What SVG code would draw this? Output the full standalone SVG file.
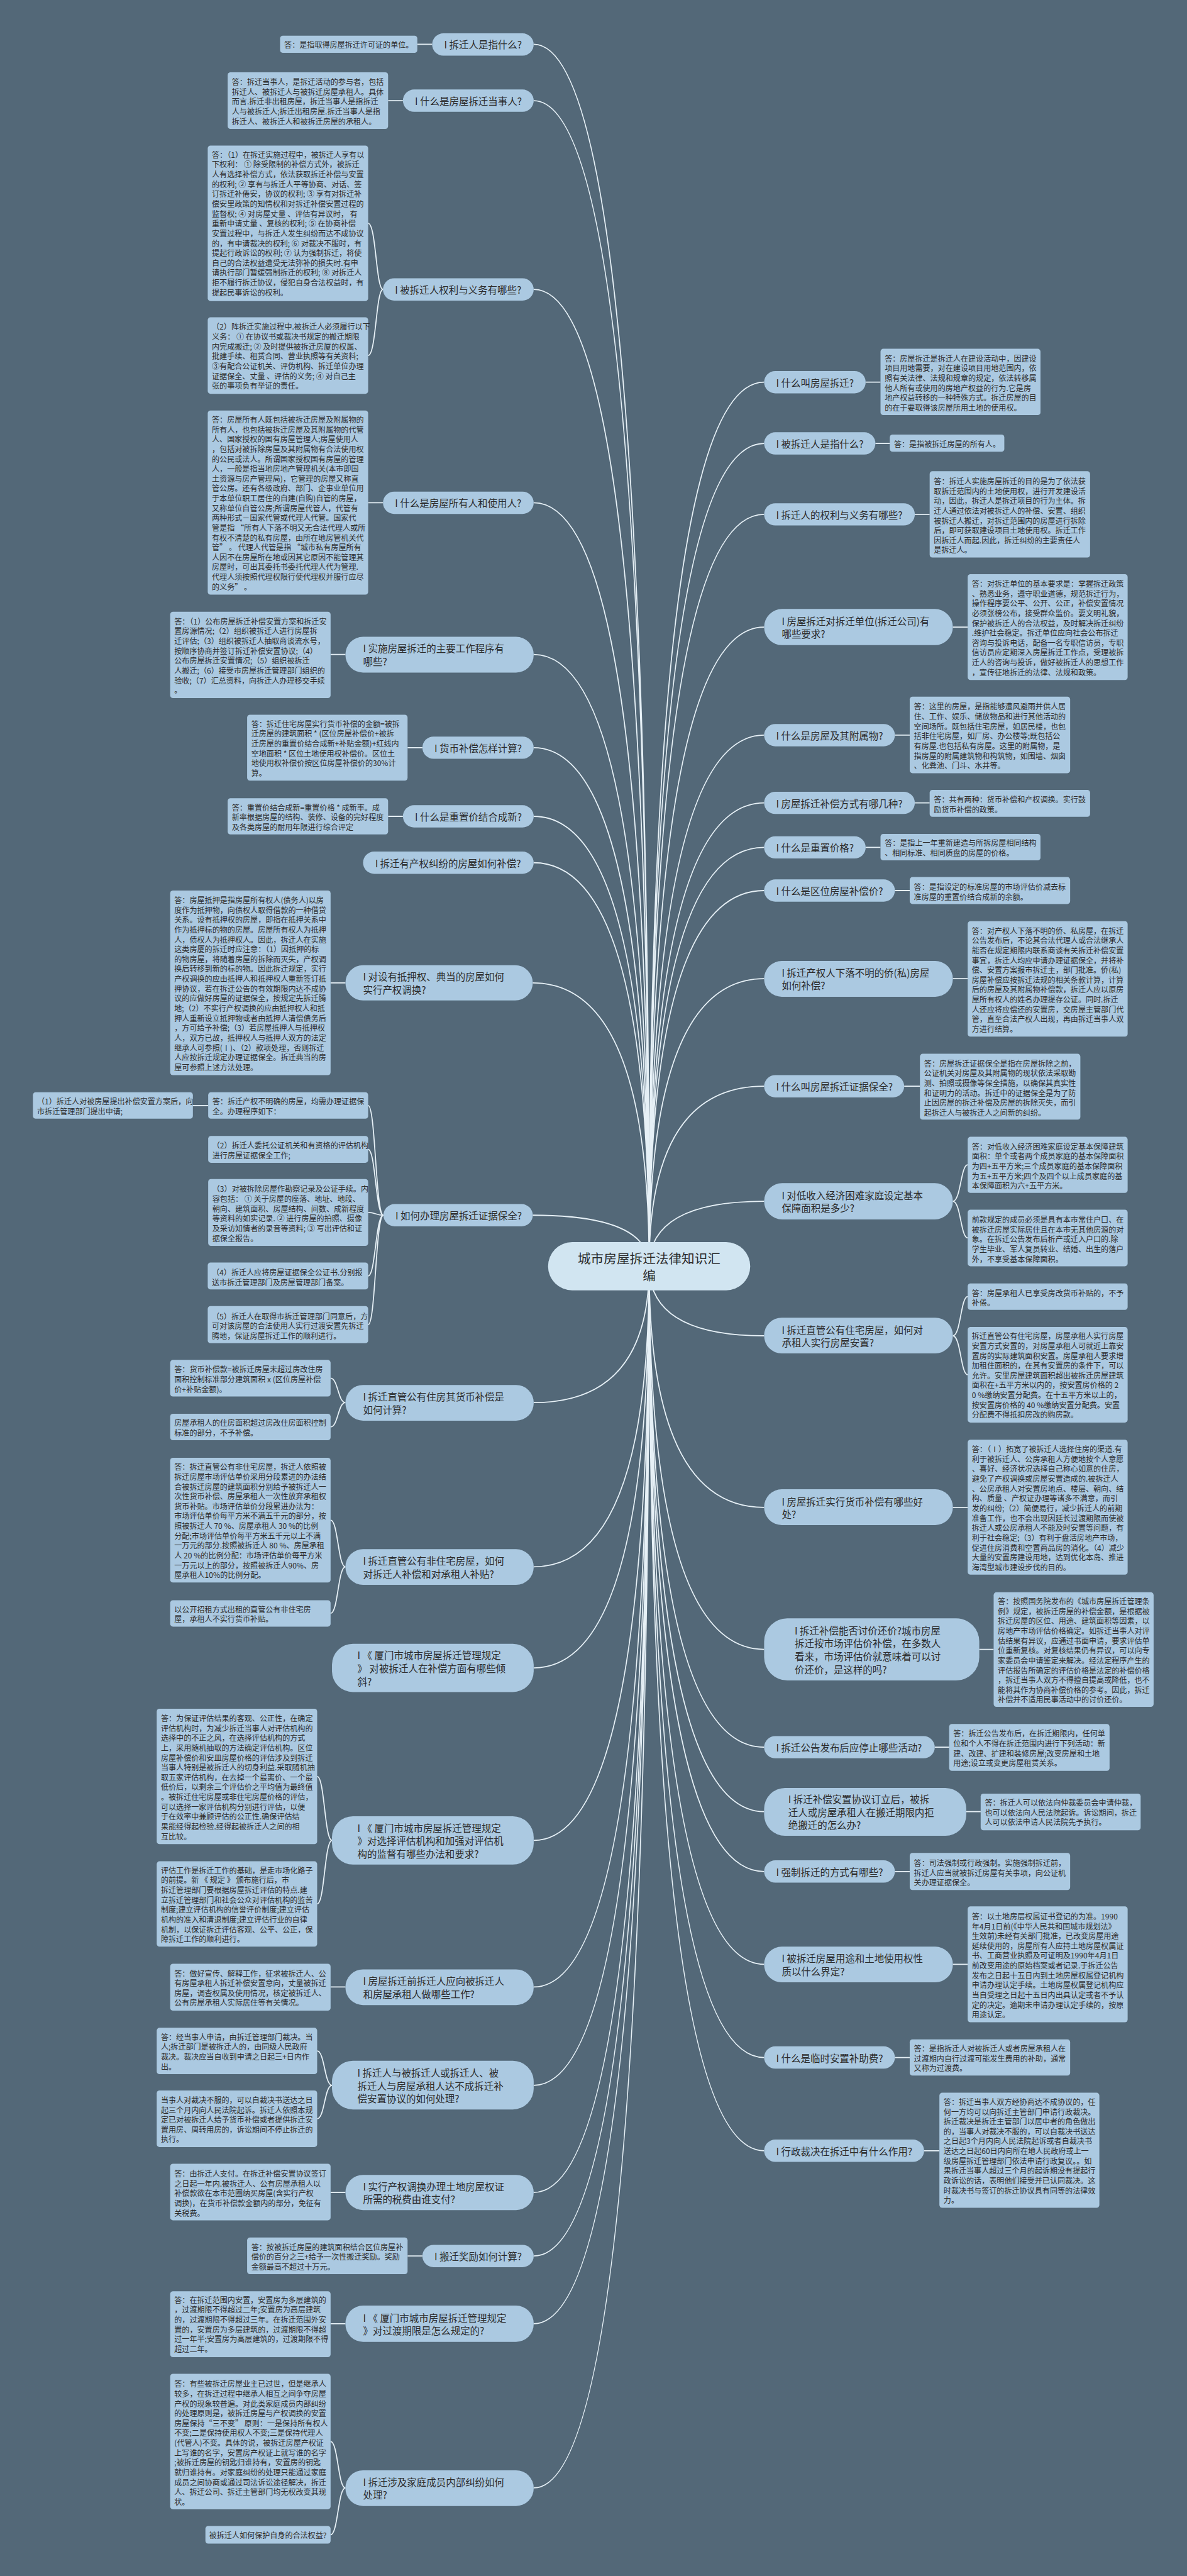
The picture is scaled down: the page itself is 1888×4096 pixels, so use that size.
<svg xmlns="http://www.w3.org/2000/svg" width="1888" height="4096" viewBox="0 0 1888 4096">
<style>
.bg{fill:#536878}
.b{fill:#abc9e1}
.p{fill:#abc9e1}
.ct{fill:#d1e5f1}
text{font-family:"Noto Sans CJK SC","Noto Sans",sans-serif;fill:#2b2b2b;dominant-baseline:central}
.t{font-size:16.4px}
.q{font-size:21px}
.c{font-size:28px;text-anchor:middle}
.ln{fill:none;stroke:#e6f0f6;stroke-width:2.4}
</style>
<rect class="bg" x="0" y="0" width="1888" height="4096"/>
<g transform="scale(0.7375)">
<g id="connectors">
<path class="ln" d="M1400 2730Q1400 95.5 1151 95.5M1400 2730Q1400 217 1151 217M1400 2730Q1400 624 1151 624M1400 2730Q1400 1084 1151 1084M1400 2730Q1400 1411 1151 1411M1400 2730Q1400 1612 1151 1612M1400 2730Q1400 1760 1151 1760M1400 2730Q1400 1860 1151 1860M1400 2730Q1400 2119 1149 2119M1400 2730Q1400 2620 1149 2620M1400 2730Q1400 3024 1151 3024M1400 2730Q1400 3378 1151 3378M1400 2730Q1400 3596 1151 3596M1400 2730Q1400 3968 1151 3968M1400 2730Q1400 4284 1151 4284M1400 2730Q1400 4496 1151 4496M1400 2730Q1400 4727 1151 4727M1400 2730Q1400 4864 1151 4864M1400 2730Q1400 5010 1151 5010M1400 2730Q1400 5364 1151 5364"/>
<path class="ln" d="M1400 2730Q1400 824 1648 824M1400 2730Q1400 956 1648 956M1400 2730Q1400 1109 1648 1109M1400 2730Q1400 1352 1648 1352M1400 2730Q1400 1585 1648 1585M1400 2730Q1400 1731 1648 1731M1400 2730Q1400 1827 1648 1827M1400 2730Q1400 1920 1648 1920M1400 2730Q1400 2110 1648 2110M1400 2730Q1400 2342 1648 2342M1400 2730Q1400 2590 1648 2590M1400 2730Q1400 2880 1648 2880M1400 2730Q1400 3250 1648 3250M1400 2730Q1400 3556 1648 3556M1400 2730Q1400 3767 1648 3767M1400 2730Q1400 3906 1648 3906M1400 2730Q1400 4035 1648 4035M1400 2730Q1400 4235 1648 4235M1400 2730Q1400 4436 1648 4436M1400 2730Q1400 4637 1648 4637"/>
<path class="ln" d="M900 95.5H932M837 217H869M794 1084H826M713 1411H745M879 1612H911M837 1760H869M713 2119H745M416 2383.5H449M713 4284H745M713 4727H745M879 4864H911M713 5010H745"/>
<path class="ln" d="M826 624C811 624 811 481.5 794 481.5M826 624C811 624 811 766.5 794 766.5"/>
<path class="ln" d="M827 2620C810 2620 810 2383.5 794 2383.5M827 2620C810 2620 810 2478 794 2478M827 2620C810 2620 810 2614 794 2614M827 2620C810 2620 810 2751 794 2751M827 2620C810 2620 810 2856 794 2856"/>
<path class="ln" d="M745 3024C729 3024 729 2971.5 713 2971.5M745 3024C729 3024 729 3076.5 713 3076.5"/>
<path class="ln" d="M745 3378C729 3378 729 3277.5 713 3277.5M745 3378C729 3378 729 3478.5 713 3478.5"/>
<path class="ln" d="M716 3968C700 3968 700 3830 684 3830M716 3968C700 3968 700 4105 684 4105"/>
<path class="ln" d="M716 4496C700 4496 700 4422 684 4422M716 4496C700 4496 700 4568 684 4568"/>
<path class="ln" d="M745 5364C729 5364 729 5264 713 5264M745 5364C729 5364 729 5465 713 5465"/>
<path class="ln" d="M1867 824H1899M1888 956H1919M1973 1109H2005M2055 1352H2087M1930 1585H1962M1973 1731H2005M1867 1827H1899M1930 1920H1962M2055 2110H2087M1950 2342H1984M2055 3250H2087M2112 3556H2143M2016 3767H2047M2084 3906H2115M1930 4035H1962M2055 4235H2087M1930 4436H1962M1993 4637H2026"/>
<path class="ln" d="M2055 2590C2072 2590 2072 2511.5 2087 2511.5M2055 2590C2072 2590 2072 2669 2087 2669"/>
<path class="ln" d="M2055 2880C2072 2880 2072 2795.5 2087 2795.5M2055 2880C2072 2880 2072 2964 2087 2964"/>
</g>

<g id="center">
<rect class="ct" x="1182" y="2678" width="436" height="104" rx="52"/>
<text class="c" x="1400" y="2712">城市房屋拆迁法律知识汇</text>
<text class="c" x="1400" y="2748">编</text>
</g>

<!-- LEFT SIDE -->
<g id="n1">
<rect class="p" x="932" y="72" width="219" height="48" rx="24"/>
<text class="q" x="958" y="95.5">I 拆迁人是指什么?</text>
<rect class="b" x="604" y="77" width="296" height="37" rx="6"/>
<text class="t" x="613" y="95.5">答：是指取得房屋拆迁许可证的单位。</text>
</g>

<g id="n2">
<rect class="p" x="869" y="193" width="282" height="48" rx="24"/>
<text class="q" x="895" y="217">I 什么是房屋拆迁当事人?</text>
<rect class="b" x="491" y="156" width="346" height="122" rx="6"/>
<text class="t" y="175"><tspan x="500">答：拆迁当事人，是拆迁活动的参与者，包括</tspan><tspan x="500" dy="21.2">拆迁人、被拆迁人与被拆迁房屋承租人。具体</tspan><tspan x="500" dy="21.2">而言.拆迁非出租房屋，拆迁当事人是指拆迁</tspan><tspan x="500" dy="21.2">人与被拆迁人;拆迁出租房屋.拆迁当事人是指</tspan><tspan x="500" dy="21.2">拆迁人、被拆迁人和被拆迁房屋的承租人。</tspan></text>
</g>

<g id="n3">
<rect class="p" x="826" y="600" width="325" height="48" rx="24"/>
<text class="q" x="852" y="624">I 被拆迁人权利与义务有哪些?</text>
<rect class="b" x="448" y="314" width="346" height="335" rx="6"/>
<text class="t" y="332"><tspan x="457">答：（1）在拆迁实施过程中，被拆迁人享有以</tspan><tspan x="457" dy="21.2">下权利：  ① 除受限制的补偿方式外，被拆迁</tspan><tspan x="457" dy="21.2">人有选择补偿方式，依法获取拆迁补偿与安置</tspan><tspan x="457" dy="21.2">的权利; ② 享有与拆迁人平等协商、对话、签</tspan><tspan x="457" dy="21.2">订拆迁补倦安，协议的权利; ③ 享有对拆迁补</tspan><tspan x="457" dy="21.2">偿安里政策的知情权和对拆迁补偿安置过程的</tspan><tspan x="457" dy="21.2">监督权; ④ 对房屋丈量 、评估有异议时， 有</tspan><tspan x="457" dy="21.2">重新申请丈量 、复核的权利; ⑤ 在协商补偿</tspan><tspan x="457" dy="21.2">安置过程中，与拆迁人发生纠纷而达不成协议</tspan><tspan x="457" dy="21.2">的，有申请裁决的权利; ⑥ 对裁决不服时，有</tspan><tspan x="457" dy="21.2">提起行政诉讼的权利; ⑦ 认为强制拆迁，将使</tspan><tspan x="457" dy="21.2">自己的合法权益遭受无法弥补的损失时.有申</tspan><tspan x="457" dy="21.2">请执行部门暂缓强制拆迁的权利; ⑧ 对拆迁人</tspan><tspan x="457" dy="21.2">拒不履行拆迁协议，侵犯自身合法权益时，有</tspan><tspan x="457" dy="21.2">提起民事诉讼的权利。</tspan></text>
<rect class="b" x="448" y="684" width="346" height="165" rx="6"/>
<text class="t" y="703"><tspan x="457">（2）阵拆迁实施过程中.被拆迁人必须履行以下</tspan><tspan x="457" dy="21.2">义务：  ① 在协议书或裁决书规定的搬迁期限</tspan><tspan x="457" dy="21.2">内完成搬迁; ② 及时提供被拆迁房厦的权属、</tspan><tspan x="457" dy="21.2">批建手续、租赁合同、营业执照等有关资料;</tspan><tspan x="457" dy="21.2">③有配合公证机关、评伪机构、拆迁单位办理</tspan><tspan x="457" dy="21.2">证据保全、丈量 、评估的义务; ④ 对自己主</tspan><tspan x="457" dy="21.2">张的事项负有举证的责任。</tspan></text>
</g>

<g id="n4">
<rect class="p" x="826" y="1060" width="325" height="48" rx="24"/>
<text class="q" x="852" y="1084">I 什么是房屋所有人和使用人?</text>
<rect class="b" x="448" y="885" width="346" height="397" rx="6"/>
<text class="t" y="903"><tspan x="457">答：房屋所有人既包括被拆迁房屋及附属物的</tspan><tspan x="457" dy="21.2">所有人，也包括被拆迁房屋及其附属物的代管</tspan><tspan x="457" dy="21.2">人、国家授权的国有房屋管理人;房屋使用人</tspan><tspan x="457" dy="21.2">，包括对被拆除房屋及其附属物有合法使用权</tspan><tspan x="457" dy="21.2">的公民或法人。所谓国家授权国有房屋的管理</tspan><tspan x="457" dy="21.2">人，一般是指当地房地产管理机关(本市即国</tspan><tspan x="457" dy="21.2">土资源与房产管理局)，它管理的房屋又称直</tspan><tspan x="457" dy="21.2">管公房。还有各级政府、部门、企事业单位用</tspan><tspan x="457" dy="21.2">于本单位职工居住的自建(自购)自管的房屋，</tspan><tspan x="457" dy="21.2">又称单位自管公房;所谓房屋代管人，代管有</tspan><tspan x="457" dy="21.2">两种形式－国家代管或代理人代管。国家代</tspan><tspan x="457" dy="21.2">管是指 “所有人下落不明又无合法代理人或所</tspan><tspan x="457" dy="21.2">有权不清楚的私有房屋，由所在地房管机关代</tspan><tspan x="457" dy="21.2">管” 。 代理人代管是指 “城市私有房屋所有</tspan><tspan x="457" dy="21.2">人因不在房屋所在地或因其它原因不能管理其</tspan><tspan x="457" dy="21.2">房屋时，可出其委托书委托代理人代为管理.</tspan><tspan x="457" dy="21.2">代理人须按照代理权限行使代理权并服行应尽</tspan><tspan x="457" dy="21.2">的义务” 。</tspan></text>
</g>

<g id="n5">
<rect class="p" x="745" y="1373" width="406" height="77" rx="38"/>
<text class="q" y="1397"><tspan x="783">I 实施房屋拆迁的主要工作程序有</tspan><tspan x="783" dy="28">哪些?</tspan></text>
<rect class="b" x="367" y="1319" width="346" height="186" rx="6"/>
<text class="t" y="1338"><tspan x="376">答：（1）公布房屋拆迁补偿安置方案和拆迁安</tspan><tspan x="376" dy="21.2">置房源情况;（2）组织被拆迁人进行房屋拆</tspan><tspan x="376" dy="21.2">迁评估;（3）组织被拆迁人抽取商谈流水号，</tspan><tspan x="376" dy="21.2">按顺序协商并签订拆迁补偿安置协议;（4）</tspan><tspan x="376" dy="21.2">公布房屋拆迁安置情况;（5）组织被拆迁</tspan><tspan x="376" dy="21.2">人搬迁;（6）接受市房屋拆迁管理部门组织的</tspan><tspan x="376" dy="21.2">验收;（7）汇总资料，向拆迁人办理移交手续</tspan><tspan x="376" dy="21.2">。</tspan></text>
</g>

<g id="n6">
<rect class="p" x="911" y="1588" width="240" height="48" rx="24"/>
<text class="q" x="937" y="1612">I 货币补偿怎样计算?</text>
<rect class="b" x="533" y="1541" width="346" height="142" rx="6"/>
<text class="t" y="1559"><tspan x="542">答：拆迁住宅房屋实行货币补偿的金额=被拆</tspan><tspan x="542" dy="21.2">迁房屋的建筑面积 * (区位房屋补偿价+被拆</tspan><tspan x="542" dy="21.2">迁房屋的重置价结合成新+补贴金额)+红线内</tspan><tspan x="542" dy="21.2">空地面积 * 区位土地使用权补偿价。区位土</tspan><tspan x="542" dy="21.2">地使用权补偿价按区位房屋补偿价的30%计</tspan><tspan x="542" dy="21.2">算。</tspan></text>
</g>

<g id="n7">
<rect class="p" x="869" y="1736" width="282" height="48" rx="24"/>
<text class="q" x="895" y="1760">I 什么是重置价结合成新?</text>
<rect class="b" x="491" y="1721" width="346" height="78" rx="6"/>
<text class="t" y="1739"><tspan x="500">答：重置价结合成新=重置价格 * 成新率。成</tspan><tspan x="500" dy="21.2">新率根据房屋的结构、装修、设备的完好程度</tspan><tspan x="500" dy="21.2">及各类房屋的耐用年限进行综合评定</tspan></text>
</g>

<g id="n8">
<rect class="p" x="783" y="1836" width="368" height="48" rx="24"/>
<text class="q" x="809" y="1860">I 拆迁有产权纠纷的房屋如何补偿?</text>
</g>

<g id="n9">
<rect class="p" x="745" y="2081" width="404" height="76" rx="38"/>
<text class="q" y="2105"><tspan x="783">I 对设有抵押权、典当的房屋如何</tspan><tspan x="783" dy="28">实行产权调换?</tspan></text>
<rect class="b" x="367" y="1920" width="346" height="398" rx="6"/>
<text class="t" y="1939"><tspan x="376">答：房屋抵押是指房屋所有权人(债务人)以房</tspan><tspan x="376" dy="21.2">度作为抵押物，向债权人取得借款的一种借贷</tspan><tspan x="376" dy="21.2">关系。设有抵押权的房屋，即指在抵押关系中</tspan><tspan x="376" dy="21.2">作为抵押标的物的房屋。房屋所有权人为抵押</tspan><tspan x="376" dy="21.2">人，债权人为抵押权人。因此，拆迁人在实施</tspan><tspan x="376" dy="21.2">这类房厦的拆迁时应注意：（1）因抵押的标</tspan><tspan x="376" dy="21.2">的物房屋，将随着房屋的拆除而灭失，产权调</tspan><tspan x="376" dy="21.2">换后转移到新的标的物。因此拆迁规定，实行</tspan><tspan x="376" dy="21.2">产权调换的应由抵押人和抵押权人重新签订抵</tspan><tspan x="376" dy="21.2">押协议，若在拆迁公告的有效期限内达不成协</tspan><tspan x="376" dy="21.2">议的应做好房屋的证据保全，按规定先拆迁腾</tspan><tspan x="376" dy="21.2">地;（2）不实行产权调换的应由抵押权人和抵</tspan><tspan x="376" dy="21.2">押人重新设立抵押物或者由抵押人清偿债务后</tspan><tspan x="376" dy="21.2">，方可给予补偿;（3）若房屋抵押人与抵押权</tspan><tspan x="376" dy="21.2">人，双方已故，抵押权人与抵押人双方的法定</tspan><tspan x="376" dy="21.2">继承人可参照(Ⅰ)、（2）款项处理，否则拆迁</tspan><tspan x="376" dy="21.2">人应按拆迁规定办理证据保全。拆迁典当的房</tspan><tspan x="376" dy="21.2">屋可参照上述方法处理。</tspan></text>
</g>

<g id="n10">
<rect class="p" x="827" y="2596" width="322" height="48" rx="24"/>
<text class="q" x="853" y="2620">I 如何办理房屋拆迁证据保全?</text>
<rect class="b" x="449" y="2355" width="345" height="57" rx="6"/>
<text class="t" y="2373"><tspan x="458">答：拆迁产权不明确的房屋，均需办理证据保</tspan><tspan x="458" dy="21.2">全。办理程序如下：</tspan></text>
<rect class="b" x="71" y="2355" width="345" height="57" rx="6"/>
<text class="t" y="2373"><tspan x="80">（1）拆迁人对被房屋提出补偿安置方案后，向</tspan><tspan x="80" dy="21.2">市拆迁管理部门提出申请;</tspan></text>
<rect class="b" x="449" y="2449" width="345" height="58" rx="6"/>
<text class="t" y="2468"><tspan x="458">（2）拆迁人委托公证机关和有资格的评估机构</tspan><tspan x="458" dy="21.2">进行房屋证据保全工作;</tspan></text>
<rect class="b" x="449" y="2542" width="345" height="144" rx="6"/>
<text class="t" y="2562"><tspan x="458">（3）对被拆除房屋作勘察记录及公证手续。内</tspan><tspan x="458" dy="21.2">容包括： ① 关于房屋的座落、地址、地段、</tspan><tspan x="458" dy="21.2">朝向、建筑面积、房屋结构、间数、成新程度</tspan><tspan x="458" dy="21.2">等资料的如实记录. ② 进行房屋的拍照、摄像</tspan><tspan x="458" dy="21.2">及采访知情者的录音等资料; ③ 写出评估和证</tspan><tspan x="458" dy="21.2">据保全报告。</tspan></text>
<rect class="b" x="448" y="2722" width="346" height="58" rx="6"/>
<text class="t" y="2742"><tspan x="457">（4）拆迁人应将房屋证据保全公证书.分别报</tspan><tspan x="457" dy="21.2">送市拆迁管理部门及房屋管理部门备案。</tspan></text>
<rect class="b" x="448" y="2816" width="346" height="80" rx="6"/>
<text class="t" y="2836"><tspan x="457">（5）拆迁人在取得市拆迁管理部门同意后，方</tspan><tspan x="457" dy="21.2">可对该房屋的合法使用人实行过渡安置先拆迁</tspan><tspan x="457" dy="21.2">腾地，保证房屋拆迁工作的顺利进行。</tspan></text>
</g>

<g id="n11">
<rect class="p" x="745" y="2986" width="406" height="77" rx="38"/>
<text class="q" y="3010"><tspan x="783">I 拆迁直管公有住房其货币补偿是</tspan><tspan x="783" dy="28">如何计算?</tspan></text>
<rect class="b" x="367" y="2932" width="346" height="79" rx="6"/>
<text class="t" y="2951"><tspan x="376">答：货币补偿款=被拆迁房屋未超过房改住房</tspan><tspan x="376" dy="21.2">面积控制标准部分建筑面积 x (区位房屋补偿</tspan><tspan x="376" dy="21.2">价+补贴金额)。</tspan></text>
<rect class="b" x="367" y="3048" width="346" height="57" rx="6"/>
<text class="t" y="3066"><tspan x="376">房屋承租人的住房面积超过房改住房面积控制</tspan><tspan x="376" dy="21.2">标准的部分，不予补偿。</tspan></text>
</g>

<g id="n12">
<rect class="p" x="745" y="3340" width="406" height="77" rx="38"/>
<text class="q" y="3364"><tspan x="783">I 拆迁直管公有非住宅房屋，如何</tspan><tspan x="783" dy="28">对拆迁人补偿和对承租人补贴?</tspan></text>
<rect class="b" x="367" y="3143" width="346" height="269" rx="6"/>
<text class="t" y="3161"><tspan x="376">答：拆迁直管公有非住宅房屋，拆迁人依照被</tspan><tspan x="376" dy="21.2">拆迁房屋市场评估单价采用分段累进的办法结</tspan><tspan x="376" dy="21.2">合被拆迁房屋的建筑面积分别给予被拆迁人一</tspan><tspan x="376" dy="21.2">次性货币补偿、房屋承租人一次性放弃承租权</tspan><tspan x="376" dy="21.2">货币补贴。市场评估单价分段累进办法为：</tspan><tspan x="376" dy="21.2">市场评估单价每平方米不满五千元的部分，按</tspan><tspan x="376" dy="21.2">照被拆迁人 70 %、房屋承租人 30 %的比例</tspan><tspan x="376" dy="21.2">分配;市场评估单价每平方米五千元以上不满</tspan><tspan x="376" dy="21.2">一万元的部分.按照被拆迁人 80 %、房屋承租</tspan><tspan x="376" dy="21.2">人 20 %的比例分配：市场评估单价每平方米</tspan><tspan x="376" dy="21.2">一万元以上的部分，按照被拆迁人90%、房</tspan><tspan x="376" dy="21.2">屋承租人10%的比例分配。</tspan></text>
<rect class="b" x="367" y="3450" width="346" height="57" rx="6"/>
<text class="t" y="3468"><tspan x="376">以公开招租方式出租的直管公有非住宅房</tspan><tspan x="376" dy="21.2">屋，承租人不实行货币补贴。</tspan></text>
</g>

<g id="n13">
<rect class="p" x="716" y="3544" width="435" height="104" rx="45"/>
<text class="q" y="3568"><tspan x="771">I 《 厦门市城市房屋拆迁管理规定</tspan><tspan x="771" dy="28">》 对被拆迁人在补偿方面有哪些倾</tspan><tspan x="771" dy="28">斜?</tspan></text>
</g>

<g id="n14">
<rect class="p" x="716" y="3916" width="435" height="104" rx="45"/>
<text class="q" y="3940"><tspan x="771">I 《 厦门市城市房屋拆迁管理规定</tspan><tspan x="771" dy="28">》对选择评估机构和加强对评估机</tspan><tspan x="771" dy="28">构的监督有哪些办法和要求?</tspan></text>
<rect class="b" x="338" y="3684" width="346" height="292" rx="6"/>
<text class="t" y="3703"><tspan x="347">答：为保证评估结果的客观、公正性，在确定</tspan><tspan x="347" dy="21.2">评估机构时，为减少拆迁当事人对评估机构的</tspan><tspan x="347" dy="21.2">选择中的不正之风，在选择评估机构的方式</tspan><tspan x="347" dy="21.2">上，采用随机抽取的方法确定评估机构。区位</tspan><tspan x="347" dy="21.2">房屋补偿价和安皿房屋价格的评估涉及到拆迁</tspan><tspan x="347" dy="21.2">当事人特别是被拆迁人的切身利益.采取随机抽</tspan><tspan x="347" dy="21.2">取五家评估机构，在去掉一个最离价、一个最</tspan><tspan x="347" dy="21.2">低价后，以剩余三个评估价之平均值为最终值</tspan><tspan x="347" dy="21.2">。被拆迁住宅房屋或非住宅房屋价格的评估，</tspan><tspan x="347" dy="21.2">可以选择一家评估机构分别进行评估，以便</tspan><tspan x="347" dy="21.2">于在效率中兼顾评估的公正性.确保评估结</tspan><tspan x="347" dy="21.2">果能经得起检验.经得起被拆迁人之间的相</tspan><tspan x="347" dy="21.2">互比较。</tspan></text>
<rect class="b" x="338" y="4013" width="346" height="184" rx="6"/>
<text class="t" y="4031"><tspan x="347">评估工作是拆迁工作的基础，是走市场化路子</tspan><tspan x="347" dy="21.2">的前提。新 《 规定 》 颁布施行后，市</tspan><tspan x="347" dy="21.2">拆迁管理部门要根据房屋拆迁评估的特点.建</tspan><tspan x="347" dy="21.2">立拆迁管理部门和社会公众对评估机构的监苦</tspan><tspan x="347" dy="21.2">制度;建立评估机构的信誉评价制度;建立评估</tspan><tspan x="347" dy="21.2">机构的准入和清退制度;建立评估行业的自律</tspan><tspan x="347" dy="21.2">机制，以保证拆迁评估客观、公平、公正，保</tspan><tspan x="347" dy="21.2">障拆迁工作的顺利进行。</tspan></text>
</g>

<g id="n15">
<rect class="p" x="745" y="4246" width="406" height="77" rx="38"/>
<text class="q" y="4270"><tspan x="783">I 房屋拆迁前拆迁人应向被拆迁人</tspan><tspan x="783" dy="28">和房屋承租人做哪些工作?</tspan></text>
<rect class="b" x="367" y="4234" width="346" height="101" rx="6"/>
<text class="t" y="4253"><tspan x="376">答：做好宣传、解释工作，征求被拆迁人、公</tspan><tspan x="376" dy="21.2">有房屋承租人拆迁补偿安置意向，丈量被拆迁</tspan><tspan x="376" dy="21.2">房屋，调查权属及使用情况，核定被拆迁人、</tspan><tspan x="376" dy="21.2">公有房屋承租人实际居住等有关情况。</tspan></text>
</g>

<g id="n16">
<rect class="p" x="716" y="4443" width="435" height="105" rx="45"/>
<text class="q" y="4468"><tspan x="771">I 拆迁人与被拆迁人或拆迁人、被</tspan><tspan x="771" dy="28">拆迁人与房屋承租人达不成拆迁补</tspan><tspan x="771" dy="28">偿安置协议的如何处理?</tspan></text>
<rect class="b" x="338" y="4372" width="346" height="100" rx="6"/>
<text class="t" y="4390"><tspan x="347">答：经当事人申请，由拆迁管理部门裁决。当</tspan><tspan x="347" dy="21.2">人;拆迁部门是被拆迁人的，由同级人民政府</tspan><tspan x="347" dy="21.2">裁决。裁决应当自收到申请之日起三+日内作</tspan><tspan x="347" dy="21.2">出。</tspan></text>
<rect class="b" x="338" y="4507" width="346" height="122" rx="6"/>
<text class="t" y="4526"><tspan x="347">当事人对裁决不服的，可以自裁决书送达之日</tspan><tspan x="347" dy="21.2">起三个月内向人民法院起诉。拆迁人依照本规</tspan><tspan x="347" dy="21.2">定已对被拆迁人给予货币补偿或者提供拆迁安</tspan><tspan x="347" dy="21.2">置用房、周转用房的，诉讼期间不停止拆迁的</tspan><tspan x="347" dy="21.2">执行。</tspan></text>
</g>

<g id="n17">
<rect class="p" x="745" y="4689" width="406" height="76" rx="38"/>
<text class="q" y="4713"><tspan x="783">I 实行产权调换办理土地房屋权证</tspan><tspan x="783" dy="28">所需的税费由谁支付?</tspan></text>
<rect class="b" x="367" y="4665" width="346" height="122" rx="6"/>
<text class="t" y="4685"><tspan x="376">答：由拆迁人支付。在拆迁补偿安置协议签订</tspan><tspan x="376" dy="21.2">之日起一年内.被拆迁人、公有房屋承租人以</tspan><tspan x="376" dy="21.2">补偿款欲在本市范圈纳买房屋(含实行产权</tspan><tspan x="376" dy="21.2">调换)，在货币补偿款金额内的部分，免征有</tspan><tspan x="376" dy="21.2">关税费。</tspan></text>
</g>

<g id="n18">
<rect class="p" x="911" y="4840" width="240" height="48" rx="24"/>
<text class="q" x="937" y="4864">I 搬迁奖励如何计算?</text>
<rect class="b" x="533" y="4824" width="346" height="79" rx="6"/>
<text class="t" y="4843"><tspan x="542">答：按被拆迁房屋的建筑面积结合区位房屋补</tspan><tspan x="542" dy="21.2">偿价的百分之三+给予一次性搬迁奖励。奖励</tspan><tspan x="542" dy="21.2">金额最高不超过十万元。</tspan></text>
</g>

<g id="n19">
<rect class="p" x="745" y="4971" width="406" height="78" rx="38"/>
<text class="q" y="4996"><tspan x="783">I 《 厦门市城市房屋拆迁管理规定</tspan><tspan x="783" dy="28">》对过渡期限是怎么规定的?</tspan></text>
<rect class="b" x="367" y="4940" width="346" height="142" rx="6"/>
<text class="t" y="4957"><tspan x="376">答：在拆迁范围内安置，安置房为多层建筑的</tspan><tspan x="376" dy="21.2">，过渡期限不得超过二年;安置房为高层建筑</tspan><tspan x="376" dy="21.2">的，过渡期限不得超过三年。在拆迁范围外安</tspan><tspan x="376" dy="21.2">置的，安置房为多层建筑的，过渡期限不得超</tspan><tspan x="376" dy="21.2">过一年半;安置房为高层建筑的，过渡期限不得</tspan><tspan x="376" dy="21.2">超过二年。</tspan></text>
</g>

<g id="n20">
<rect class="p" x="745" y="5326" width="406" height="77" rx="38"/>
<text class="q" y="5350"><tspan x="783">I 拆迁涉及家庭成员内部纠纷如何</tspan><tspan x="783" dy="28">处理?</tspan></text>
<rect class="b" x="367" y="5118" width="346" height="292" rx="6"/>
<text class="t" y="5138"><tspan x="376">答：有些被拆迁房屋业主已过世，但是继承人</tspan><tspan x="376" dy="21.2">较多，在拆迁过程中继承人相互之间争夺房屋</tspan><tspan x="376" dy="21.2">产权的现象较普遍。对此类家庭成员内部纠纷</tspan><tspan x="376" dy="21.2">的处理原则是，被拆迁房屋与产权调换的安置</tspan><tspan x="376" dy="21.2">房屋保持“三不变” 原则：一是保持所有权人</tspan><tspan x="376" dy="21.2">不变;二是保持使用权人不变;三是保持代理人</tspan><tspan x="376" dy="21.2">(代管人)不变。具体的说，被拆迁房屋产权证</tspan><tspan x="376" dy="21.2">上写谁的名字，安置房产权证上就写谁的名字</tspan><tspan x="376" dy="21.2">;被拆迁房屋的钥匙归谁持有，安置房的钥匙</tspan><tspan x="376" dy="21.2">就归谁持有。对家庭纠纷的处理只能通过家庭</tspan><tspan x="376" dy="21.2">成员之间协商或通过司法诉讼途径解决，拆迁</tspan><tspan x="376" dy="21.2">人、拆迁公司、拆迁主管部门均无权改变其现</tspan><tspan x="376" dy="21.2">状。</tspan></text>
<rect class="b" x="443" y="5446" width="270" height="38" rx="6"/>
<text class="t" x="451" y="5465">被拆迁人如何保护自身的合法权益?</text>
</g>

<!-- RIGHT SIDE -->
<g id="r1">
<rect class="p" x="1648" y="800" width="219" height="48" rx="24"/>
<text class="q" x="1674" y="824">I 什么叫房屋拆迁?</text>
<rect class="b" x="1899" y="752" width="345" height="143" rx="6"/>
<text class="t" y="771"><tspan x="1908">答：房屋拆迁是拆迁人在建设活动中，因建设</tspan><tspan x="1908" dy="21.2">项目用地需要，对在建设项目用地范围内，依</tspan><tspan x="1908" dy="21.2">照有关法律、法规和规章的规定，依法转移属</tspan><tspan x="1908" dy="21.2">他人所有或使用的房地产权益的行为.它是房</tspan><tspan x="1908" dy="21.2">地产权益转移的一种特殊方式。拆迁房屋的目</tspan><tspan x="1908" dy="21.2">的在于要取得该房屋所用土地的使用权。</tspan></text>
</g>

<g id="r2">
<rect class="p" x="1648" y="932" width="240" height="48" rx="24"/>
<text class="q" x="1674" y="956">I 被拆迁人是指什么?</text>
<rect class="b" x="1919" y="937" width="247" height="37" rx="6"/>
<text class="t" x="1928" y="956">答：是指被拆迁房屋的所有人。</text>
</g>

<g id="r3">
<rect class="p" x="1648" y="1085" width="325" height="48" rx="24"/>
<text class="q" x="1674" y="1109">I 拆迁人的权利与义务有哪些?</text>
<rect class="b" x="2005" y="1016" width="346" height="186" rx="6"/>
<text class="t" y="1036"><tspan x="2014">答：拆迁人实施房屋拆迁的目的是为了依法获</tspan><tspan x="2014" dy="21.2">取拆迁范围内的土地使用权，进行开发建设活</tspan><tspan x="2014" dy="21.2">动，因此，拆迁人是拆迁项目的行为主体。拆</tspan><tspan x="2014" dy="21.2">迁人通过依法对被拆迁人的补偿、安置、组织</tspan><tspan x="2014" dy="21.2">被拆迁人搬迁，对拆迁范围内的房屋进行拆除</tspan><tspan x="2014" dy="21.2">后，即可获取建设项目土地使用权。拆迁工作</tspan><tspan x="2014" dy="21.2">因拆迁人而起.因此，拆迁纠纷的主要责任人</tspan><tspan x="2014" dy="21.2">是拆迁人。</tspan></text>
</g>

<g id="r4">
<rect class="p" x="1648" y="1313" width="407" height="78" rx="39"/>
<text class="q" y="1338"><tspan x="1686">I 房屋拆迁对拆迁单位(拆迁公司)有</tspan><tspan x="1686" dy="28">哪些要求?</tspan></text>
<rect class="b" x="2087" y="1238" width="345" height="228" rx="6"/>
<text class="t" y="1257"><tspan x="2096">答：对拆迁单位的基本要求是：掌握拆迁政策</tspan><tspan x="2096" dy="21.2">、熟悉业务，遵守职业道德，规范拆迁行为，</tspan><tspan x="2096" dy="21.2">操作程序要公平、公开、公正，补偿安置情况</tspan><tspan x="2096" dy="21.2">必须张榜公布，接受群众监价。要文明礼貌，</tspan><tspan x="2096" dy="21.2">保护被拆迁人的合法权益，及时解决拆迁纠纷</tspan><tspan x="2096" dy="21.2">.维护社会稳定。拆迁单位应向社会公布拆迁</tspan><tspan x="2096" dy="21.2">咨询与投诉电话，配备一名专职信访员，专职</tspan><tspan x="2096" dy="21.2">信访员应定期深入房屋拆迁工作点，受理被拆</tspan><tspan x="2096" dy="21.2">迁人的咨询与投诉，做好被拆迁人的思想工作</tspan><tspan x="2096" dy="21.2">，宣传征地拆迁的法律、法规和政策。</tspan></text>
</g>

<g id="r5">
<rect class="p" x="1648" y="1561" width="282" height="48" rx="24"/>
<text class="q" x="1674" y="1585">I 什么是房屋及其附属物?</text>
<rect class="b" x="1962" y="1502" width="346" height="165" rx="6"/>
<text class="t" y="1522"><tspan x="1971">答：这里的房屋，是指能够遭风避雨并供人居</tspan><tspan x="1971" dy="21.2">住、工作、娱乐、储放物品和进行其他活动的</tspan><tspan x="1971" dy="21.2">空间场所。既包括住宅房屋，如居民楼，也包</tspan><tspan x="1971" dy="21.2">括非住宅房屋，如厂房、办公楼等;既包括公</tspan><tspan x="1971" dy="21.2">有房屋.也包括私有房屋。这里的附属物，是</tspan><tspan x="1971" dy="21.2">指房屋的附属建筑物和构筑物，如围墙、烟囱</tspan><tspan x="1971" dy="21.2">、化粪池、门斗、水井等。</tspan></text>
</g>

<g id="r6">
<rect class="p" x="1648" y="1707" width="325" height="48" rx="24"/>
<text class="q" x="1674" y="1731">I 房屋拆迁补偿方式有哪几种?</text>
<rect class="b" x="2005" y="1703" width="346" height="58" rx="6"/>
<text class="t" y="1722"><tspan x="2014">答：共有两种：货币补偿和产权调换。实行鼓</tspan><tspan x="2014" dy="21.2">励货币补偿的政策。</tspan></text>
</g>

<g id="r7">
<rect class="p" x="1648" y="1803" width="219" height="48" rx="24"/>
<text class="q" x="1674" y="1827">I 什么是重置价格?</text>
<rect class="b" x="1899" y="1798" width="345" height="57" rx="6"/>
<text class="t" y="1816"><tspan x="1908">答：是指上一年重新建造与所拆房屋相同结构</tspan><tspan x="1908" dy="21.2">、相同标准、相同质盘的房屋的价格。</tspan></text>
</g>

<g id="r8">
<rect class="p" x="1648" y="1896" width="282" height="48" rx="24"/>
<text class="q" x="1674" y="1920">I 什么是区位房屋补偿价?</text>
<rect class="b" x="1962" y="1891" width="346" height="58" rx="6"/>
<text class="t" y="1911"><tspan x="1971">答：是指设定的标准房屋的市场评估价减去标</tspan><tspan x="1971" dy="21.2">准房屋的重置价结合成新的余额。</tspan></text>
</g>

<g id="r9">
<rect class="p" x="1648" y="2072" width="407" height="77" rx="38"/>
<text class="q" y="2096"><tspan x="1686">I 拆迁产权人下落不明的侨(私)房屋</tspan><tspan x="1686" dy="28">如何补偿?</tspan></text>
<rect class="b" x="2087" y="1986" width="345" height="249" rx="6"/>
<text class="t" y="2005"><tspan x="2096">答：对产权人下落不明的侨、私房屋，在拆迁</tspan><tspan x="2096" dy="21.2">公告发布后，不论其合法代理人或合法继承人</tspan><tspan x="2096" dy="21.2">能否在规定期限内联系商谈有关拆迁补偿安置</tspan><tspan x="2096" dy="21.2">事宜，拆迁人均应申请办理证据保全，并将补</tspan><tspan x="2096" dy="21.2">偿、安置方案报市拆迁主，部门批准。侨(私)</tspan><tspan x="2096" dy="21.2">房屋补偿应按拆迁法规的相关条款计算，计算</tspan><tspan x="2096" dy="21.2">后的房屋及其附属物补偿款，拆迁人应以原房</tspan><tspan x="2096" dy="21.2">屋所有权人的姓名办理提存公证。同时.拆迁</tspan><tspan x="2096" dy="21.2">人还应将应偿还的安置房，交房屋主管部门代</tspan><tspan x="2096" dy="21.2">管，直至合法产权人出现，再由拆迁当事人双</tspan><tspan x="2096" dy="21.2">方进行结算。</tspan></text>
</g>

<g id="r10">
<rect class="p" x="1648" y="2318" width="302" height="48" rx="24"/>
<text class="q" x="1674" y="2342">I 什么叫房屋拆迁证据保全?</text>
<rect class="b" x="1984" y="2272" width="346" height="142" rx="6"/>
<text class="t" y="2291"><tspan x="1993">答：房屋拆迁证据保全是指在房屋拆除之前，</tspan><tspan x="1993" dy="21.2">公证机关对房屋及其附属物的现状依法采取勘</tspan><tspan x="1993" dy="21.2">测、拍照或摄像等保全措施，以确保其真实性</tspan><tspan x="1993" dy="21.2">和证明力的活动。拆迁中的证据保全是为了防</tspan><tspan x="1993" dy="21.2">止因房屋的拆迁补偿及房屋的拆除灭失，而引</tspan><tspan x="1993" dy="21.2">起拆迁人与被拆迁人之间新的纠纷。</tspan></text>
</g>

<g id="r11">
<rect class="p" x="1648" y="2551" width="407" height="78" rx="39"/>
<text class="q" y="2576"><tspan x="1686">I 对低收入经济困难家庭设定基本</tspan><tspan x="1686" dy="28">保障面积是多少?</tspan></text>
<rect class="b" x="2087" y="2451" width="345" height="121" rx="6"/>
<text class="t" y="2470"><tspan x="2096">答：对低收入经济困难家庭设定基本保障建筑</tspan><tspan x="2096" dy="21.2">面积：单个或者两个成员家庭的基本保障面积</tspan><tspan x="2096" dy="21.2">为四+五平方米;三个成员家庭的基本保障面积</tspan><tspan x="2096" dy="21.2">为五+五平方米;四个及四个以上成员家庭的基</tspan><tspan x="2096" dy="21.2">本保障面积为六+五平方米。</tspan></text>
<rect class="b" x="2087" y="2608" width="345" height="122" rx="6"/>
<text class="t" y="2628"><tspan x="2096">前款规定的成员必须是具有本市常住户口、在</tspan><tspan x="2096" dy="21.2">被拆迁房屋实际居住且在本市无其他房源的对</tspan><tspan x="2096" dy="21.2">象。在拆迁公告发布后析产或迁入户口的.除</tspan><tspan x="2096" dy="21.2">学生毕业、军人复员转业、结婚、出生的落户</tspan><tspan x="2096" dy="21.2">外，不享受基本保障面积。</tspan></text>
</g>

<g id="r12">
<rect class="p" x="1648" y="2841" width="407" height="77" rx="38"/>
<text class="q" y="2866"><tspan x="1686">I 拆迁直管公有住宅房屋，如何对</tspan><tspan x="1686" dy="28">承租人实行房屋安置?</tspan></text>
<rect class="b" x="2087" y="2767" width="345" height="57" rx="6"/>
<text class="t" y="2786"><tspan x="2096">答：房屋承租人已享受房改货币补贴的，不予</tspan><tspan x="2096" dy="21.2">补倦。</tspan></text>
<rect class="b" x="2087" y="2861" width="345" height="206" rx="6"/>
<text class="t" y="2879"><tspan x="2096">拆迁直管公有住宅房屋，房屋承租人实行房屋</tspan><tspan x="2096" dy="21.2">安置方式安置的，对房屋承租人可就近上靠安</tspan><tspan x="2096" dy="21.2">置房的实际建筑面积安置。房屋承租人要求增</tspan><tspan x="2096" dy="21.2">加租住面积的，在其有安置房的条件下，可以</tspan><tspan x="2096" dy="21.2">允许。安里房屋建筑面积超出被拆迁房屋建筑</tspan><tspan x="2096" dy="21.2">面积在+五平方米以内的，按安置房价格的 2</tspan><tspan x="2096" dy="21.2">0 %缴纳安置分配费。在十五平方米以上的，</tspan><tspan x="2096" dy="21.2">按安置房价格的 40 %缴纳安置分配费。安置</tspan><tspan x="2096" dy="21.2">分配费不得抵扣房改的购房款。</tspan></text>
</g>

<g id="r13">
<rect class="p" x="1648" y="3211" width="407" height="77" rx="38"/>
<text class="q" y="3236"><tspan x="1686">I 房屋拆迁实行货币补偿有哪些好</tspan><tspan x="1686" dy="28">处?</tspan></text>
<rect class="b" x="2087" y="3104" width="345" height="291" rx="6"/>
<text class="t" y="3123"><tspan x="2096">答：（Ⅰ）拓宽了被拆迁人选择住房的渠道.有</tspan><tspan x="2096" dy="21.2">利于被拆迁人、公房承租人方便地按个人意愿</tspan><tspan x="2096" dy="21.2">、喜好、经济状况选择自己称心如意的住房，</tspan><tspan x="2096" dy="21.2">避免了产权调换或房屋安置造成的.被拆迁人</tspan><tspan x="2096" dy="21.2">、公房承租人对安置房地点、楼层、朝向、结</tspan><tspan x="2096" dy="21.2">构、质量 、产权证办理等诸多不满意，而引</tspan><tspan x="2096" dy="21.2">发的纠纷;（2）简便易行，减少拆迁人的前期</tspan><tspan x="2096" dy="21.2">准备工作，也不会出现因延长过渡期限而使被</tspan><tspan x="2096" dy="21.2">拆迁人或公房承租人不能及时安置等问题，有</tspan><tspan x="2096" dy="21.2">利于社会稳定;（3）有利于盘活房地产市场，</tspan><tspan x="2096" dy="21.2">促进住房消费和空置商品房的消化。（4）减少</tspan><tspan x="2096" dy="21.2">大量的安置房建设用地，达到优化本岛、推进</tspan><tspan x="2096" dy="21.2">海湾型城市建设步伐的目的。</tspan></text>
</g>

<g id="r14">
<rect class="p" x="1648" y="3489" width="464" height="134" rx="50"/>
<text class="q" y="3514"><tspan x="1714">I 拆迁补偿能否讨价还价?城市房屋</tspan><tspan x="1714" dy="28">拆迁按市场评估价补偿，在多数人</tspan><tspan x="1714" dy="28">看来，市场评估价就意味着可以讨</tspan><tspan x="1714" dy="28">价还价，是这样的吗?</tspan></text>
<rect class="b" x="2143" y="3433" width="345" height="247" rx="6"/>
<text class="t" y="3451"><tspan x="2152">答：按照国务院发布的《城市房屋拆迁管理条</tspan><tspan x="2152" dy="21.2">例》规定，被拆迁房屋的补偿金额，是根据被</tspan><tspan x="2152" dy="21.2">拆迁房屋的区位、用途、建筑面积等因素，以</tspan><tspan x="2152" dy="21.2">房地产市场评估价格确定。如拆迁当事人对评</tspan><tspan x="2152" dy="21.2">估结果有异议，应通过书面申请，要求评估单</tspan><tspan x="2152" dy="21.2">位重新复核。对复核结果仍有异议，可以向专</tspan><tspan x="2152" dy="21.2">家委员会申请鉴定来解决。经法定程序产生的</tspan><tspan x="2152" dy="21.2">评估报告所确定的评估价格是法定的补偿价格</tspan><tspan x="2152" dy="21.2">，拆迁当事人双方不得擅自提高或降低，也不</tspan><tspan x="2152" dy="21.2">能将其作为协商补偿价格的参考。因此，拆迁</tspan><tspan x="2152" dy="21.2">补偿并不适用民事活动中的讨价还价。</tspan></text>
</g>

<g id="r15">
<rect class="p" x="1648" y="3743" width="368" height="48" rx="24"/>
<text class="q" x="1674" y="3767">I 拆迁公告发布后应停止哪些活动?</text>
<rect class="b" x="2047" y="3717" width="346" height="101" rx="6"/>
<text class="t" y="3736"><tspan x="2056">答：拆迁公告发布后，在拆迁期限内，任何单</tspan><tspan x="2056" dy="21.2">位和个人不得在拆迁范围内进行下列活动：新</tspan><tspan x="2056" dy="21.2">建、改建、扩建和装修房屋;改变房屋和土地</tspan><tspan x="2056" dy="21.2">用途;设立或变更房屋租赁关系。</tspan></text>
</g>

<g id="r16">
<rect class="p" x="1648" y="3855" width="436" height="103" rx="45"/>
<text class="q" y="3878"><tspan x="1700">I 拆迁补偿安置协议订立后，被拆</tspan><tspan x="1700" dy="28">迁人或房屋承租人在搬迁期限内拒</tspan><tspan x="1700" dy="28">绝搬迁的怎么办?</tspan></text>
<rect class="b" x="2115" y="3867" width="345" height="79" rx="6"/>
<text class="t" y="3885"><tspan x="2124">答：拆迁人可以依法向仲裁委员会申请仲裁，</tspan><tspan x="2124" dy="21.2">也可以依法向人民法院起诉。诉讼期间，拆迁</tspan><tspan x="2124" dy="21.2">人可以依法申请人民法院先予执行。</tspan></text>
</g>

<g id="r17">
<rect class="p" x="1648" y="4011" width="282" height="48" rx="24"/>
<text class="q" x="1674" y="4035">I 强制拆迁的方式有哪些?</text>
<rect class="b" x="1962" y="3995" width="346" height="80" rx="6"/>
<text class="t" y="4015"><tspan x="1971">答：司法强制或行政强制。实施强制拆迁前，</tspan><tspan x="1971" dy="21.2">拆迁人应当就被拆迁房屋有关事项，向公证机</tspan><tspan x="1971" dy="21.2">关办理证据保全。</tspan></text>
</g>

<g id="r18">
<rect class="p" x="1648" y="4197" width="407" height="77" rx="38"/>
<text class="q" y="4221"><tspan x="1686">I 被拆迁房屋用途和土地使用权性</tspan><tspan x="1686" dy="28">质以什么界定?</tspan></text>
<rect class="b" x="2087" y="4110" width="345" height="250" rx="6"/>
<text class="t" y="4130"><tspan x="2096">答：以土地房层权属证书登记的为准。1990</tspan><tspan x="2096" dy="21.2">年4月1日前(《中华人民共和国城市规划法》</tspan><tspan x="2096" dy="21.2">生效前)未经有关部门批准，已改变房屋用途</tspan><tspan x="2096" dy="21.2">延续使用的，房屋所有人应持土地房屋权属证</tspan><tspan x="2096" dy="21.2">书、工商营业执照及可证明及1990年4月1日</tspan><tspan x="2096" dy="21.2">前改变用途的原始档案或者记录.于拆迁公告</tspan><tspan x="2096" dy="21.2">发布之日起十五日内到土地房屋权属登记机构</tspan><tspan x="2096" dy="21.2">申请办理认定手续。土地房屋权属登记机构应</tspan><tspan x="2096" dy="21.2">当自受理之日起十五日内出具认定或者不予认</tspan><tspan x="2096" dy="21.2">定的决定。逾期未申请办理认定手续的，按原</tspan><tspan x="2096" dy="21.2">用途认定。</tspan></text>
</g>

<g id="r19">
<rect class="p" x="1648" y="4412" width="282" height="48" rx="24"/>
<text class="q" x="1674" y="4436">I 什么是临时安置补助费?</text>
<rect class="b" x="1962" y="4397" width="346" height="78" rx="6"/>
<text class="t" y="4415"><tspan x="1971">答：是指拆迁人对被拆迁人或者房屋承租人在</tspan><tspan x="1971" dy="21.2">过渡期内自行过渡可能发生费用的补助，通常</tspan><tspan x="1971" dy="21.2">又称为过渡费。</tspan></text>
</g>

<g id="r20">
<rect class="p" x="1648" y="4613" width="345" height="48" rx="24"/>
<text class="q" x="1674" y="4637">I 行政裁决在拆迁中有什么作用?</text>
<rect class="b" x="2026" y="4512" width="345" height="248" rx="6"/>
<text class="t" y="4530"><tspan x="2035">答：拆迁当事人双方经协商达不成协议的，任</tspan><tspan x="2035" dy="21.2">何一方均可以向拆迁主管部门申请行政裁决。</tspan><tspan x="2035" dy="21.2">拆迁裁决是拆迁主管部门以居中者的角色做出</tspan><tspan x="2035" dy="21.2">的，当事人对裁决不服的，可以自裁决书送达</tspan><tspan x="2035" dy="21.2">之日起3个月内向人民法院起诉或者自裁决书</tspan><tspan x="2035" dy="21.2">送达之日起60日内向所在地人民政府或上一</tspan><tspan x="2035" dy="21.2">级房屋拆迁管理部门依法申请行政复议。。如</tspan><tspan x="2035" dy="21.2">果拆迁当事人超过三个月的起诉期没有提起行</tspan><tspan x="2035" dy="21.2">政诉讼的话，表明他们接受并已认同裁决。这</tspan><tspan x="2035" dy="21.2">时裁决书与签订的拆迁协议具有同等的法律效</tspan><tspan x="2035" dy="21.2">力。</tspan></text>
</g>
</g>
</svg>
